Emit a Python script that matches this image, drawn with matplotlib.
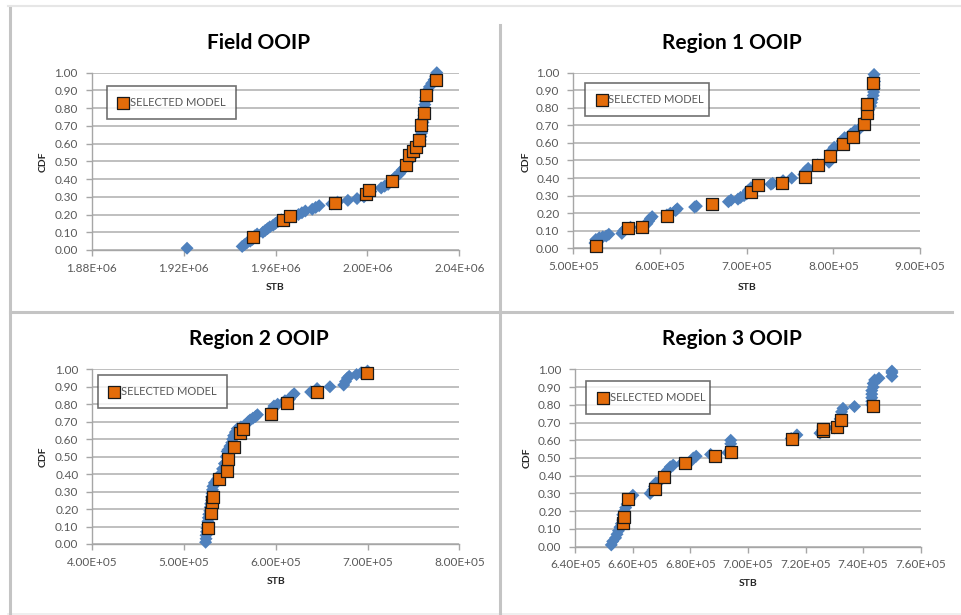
import matplotlib
matplotlib.use("Agg")
import matplotlib.pyplot as plt
from matplotlib.lines import Line2D
from matplotlib.ticker import FuncFormatter, MultipleLocator

plt.rcParams['font.family'] = ['Lato', 'DejaVu Sans']

# ---------------- data ----------------
titles = ["Field OOIP", "Region 1 OOIP", "Region 2 OOIP", "Region 3 OOIP"]
legend_label = "SELECTED MODEL"
x_label = "STB"
y_label = "CDF"

# Field realizations (STB, CDF)
field_x = [1.9215e6, 1.9455e6, 1.9465e6, 1.9475e6, 1.9490e6, 1.9500e6, 1.9510e6, 1.9520e6,
           1.9545e6, 1.9555e6, 1.9565e6, 1.9575e6, 1.9590e6, 1.9600e6, 1.9610e6, 1.9625e6,
           1.9650e6, 1.9665e6, 1.9700e6, 1.9715e6, 1.9730e6, 1.9760e6, 1.9775e6, 1.9790e6,
           1.9845e6, 1.9870e6, 1.9915e6, 1.9955e6, 1.9985e6, 2.0000e6, 2.0015e6, 2.0060e6,
           2.0075e6, 2.0090e6, 2.0105e6, 2.0120e6, 2.0130e6, 2.0140e6, 2.0150e6, 2.0160e6,
           2.0170e6, 2.0180e6, 2.0190e6, 2.0200e6, 2.0210e6, 2.0218e6, 2.0225e6, 2.0230e6,
           2.0233e6, 2.0236e6, 2.0238e6, 2.0240e6, 2.0242e6, 2.0244e6, 2.0246e6, 2.0247e6,
           2.0249e6, 2.0250e6, 2.0252e6, 2.0254e6, 2.0257e6, 2.0262e6, 2.0270e6, 2.0280e6,
           2.0290e6, 2.0297e6, 2.0302e6]
field_y = [0.01, 0.02, 0.03, 0.04, 0.05, 0.06, 0.08, 0.09,
           0.10, 0.11, 0.12, 0.13, 0.14, 0.15, 0.16, 0.17,
           0.18, 0.19, 0.20, 0.21, 0.22, 0.23, 0.24, 0.25,
           0.26, 0.27, 0.28, 0.29, 0.30, 0.32, 0.33, 0.35,
           0.36, 0.37, 0.39, 0.41, 0.42, 0.43, 0.45, 0.46,
           0.48, 0.50, 0.52, 0.54, 0.56, 0.58, 0.60, 0.62,
           0.64, 0.66, 0.68, 0.70, 0.72, 0.74, 0.76, 0.78,
           0.80, 0.82, 0.84, 0.86, 0.88, 0.90, 0.92, 0.94,
           0.96, 0.98, 1.00]
field_sel_x = [1.9504e6, 1.9634e6, 1.9663e6, 1.9859e6, 1.9994e6, 2.0006e6, 2.0106e6, 2.0168e6,
               2.0183e6, 2.0197e6, 2.0210e6, 2.0223e6, 2.0235e6, 2.0246e6, 2.0255e6, 2.0297e6]
field_sel_y = [0.073, 0.171, 0.190, 0.265, 0.314, 0.337, 0.391, 0.478,
               0.534, 0.557, 0.583, 0.622, 0.703, 0.773, 0.876, 0.957]

# Region 1
r1_x = [5.25e5, 5.26e5, 5.30e5, 5.34e5, 5.38e5, 5.41e5, 5.56e5, 5.58e5, 5.60e5, 5.66e5,
        5.85e5, 5.87e5, 5.89e5, 5.91e5, 6.08e5, 6.12e5, 6.18e5, 6.20e5, 6.40e5, 6.42e5,
        6.79e5, 6.82e5, 6.90e5, 6.93e5, 6.97e5, 7.00e5, 7.02e5, 7.05e5, 7.28e5, 7.30e5,
        7.42e5, 7.52e5, 7.66e5, 7.68e5, 7.71e5, 7.82e5, 7.95e5, 7.96e5, 7.97e5, 7.99e5,
        8.01e5, 8.10e5, 8.13e5, 8.20e5, 8.25e5, 8.30e5, 8.34e5, 8.36e5, 8.38e5, 8.40e5,
        8.41e5, 8.43e5, 8.44e5, 8.45e5, 8.46e5, 8.465e5, 8.47e5, 8.47e5, 8.475e5, 8.47e5,
        8.47e5]
r1_y = [0.03, 0.05, 0.06, 0.065, 0.07, 0.08, 0.085, 0.10, 0.11, 0.12,
        0.14, 0.155, 0.17, 0.18, 0.19, 0.20, 0.215, 0.225, 0.235, 0.24,
        0.265, 0.275, 0.28, 0.29, 0.30, 0.31, 0.33, 0.345, 0.365, 0.37,
        0.385, 0.40, 0.42, 0.44, 0.455, 0.475, 0.49, 0.50, 0.53, 0.56,
        0.575, 0.61, 0.63, 0.65, 0.67, 0.68, 0.70, 0.72, 0.74, 0.76,
        0.79, 0.81, 0.83, 0.85, 0.87, 0.89, 0.91, 0.93, 0.95, 0.97,
        0.99]
r1_sel_x = [5.258e5, 5.635e5, 5.796e5, 6.084e5, 6.604e5, 7.047e5, 7.134e5, 7.404e5, 7.677e5,
            7.820e5, 7.962e5, 8.115e5, 8.223e5, 8.354e5, 8.385e5, 8.392e5, 8.461e5]
r1_sel_y = [0.011, 0.116, 0.123, 0.186, 0.250, 0.321, 0.359, 0.370, 0.408,
            0.473, 0.524, 0.596, 0.632, 0.706, 0.770, 0.822, 0.941]

# Region 2
r2_x = [5.235e5, 5.24e5, 5.24e5, 5.245e5, 5.25e5, 5.255e5, 5.26e5, 5.265e5, 5.27e5, 5.28e5,
        5.285e5, 5.29e5, 5.30e5, 5.30e5, 5.305e5, 5.31e5, 5.315e5, 5.33e5, 5.36e5, 5.38e5,
        5.40e5, 5.42e5, 5.44e5, 5.46e5, 5.47e5, 5.48e5, 5.50e5, 5.52e5, 5.53e5, 5.54e5,
        5.56e5, 5.58e5, 5.62e5, 5.66e5, 5.70e5, 5.72e5, 5.75e5, 5.78e5, 5.80e5, 5.96e5,
        5.98e5, 6.02e5, 6.10e5, 6.15e5, 6.18e5, 6.20e5, 6.38e5, 6.45e5, 6.59e5, 6.74e5,
        6.76e5, 6.78e5, 6.80e5, 6.88e5, 6.93e5, 7.00e5]
r2_y = [0.01, 0.03, 0.05, 0.07, 0.09, 0.11, 0.13, 0.15, 0.17, 0.19,
        0.21, 0.23, 0.25, 0.27, 0.29, 0.31, 0.33, 0.35, 0.37, 0.39,
        0.40, 0.43, 0.46, 0.50, 0.53, 0.54, 0.56, 0.58, 0.60, 0.62,
        0.64, 0.66, 0.67, 0.68, 0.70, 0.71, 0.72, 0.73, 0.74, 0.77,
        0.79, 0.80, 0.82, 0.83, 0.85, 0.86, 0.87, 0.89, 0.90, 0.91,
        0.93, 0.95, 0.96, 0.97, 0.98, 0.99]
r2_sel_x = [5.264e5, 5.290e5, 5.301e5, 5.319e5, 5.384e5, 5.465e5, 5.476e5, 5.548e5, 5.610e5,
            5.646e5, 5.948e5, 6.119e5, 6.446e5, 6.991e5]
r2_sel_y = [0.093, 0.176, 0.239, 0.271, 0.374, 0.420, 0.487, 0.555, 0.633,
            0.656, 0.744, 0.805, 0.872, 0.981]

# Region 3
r3_x = [6.525e5, 6.53e5, 6.54e5, 6.545e5, 6.55e5, 6.555e5, 6.56e5, 6.565e5, 6.565e5, 6.57e5,
        6.575e5, 6.58e5, 6.59e5, 6.60e5, 6.66e5, 6.67e5, 6.675e5, 6.68e5, 6.70e5, 6.71e5,
        6.72e5, 6.73e5, 6.74e5, 6.77e5, 6.80e5, 6.81e5, 6.82e5, 6.87e5, 6.93e5, 6.94e5,
        6.94e5, 6.94e5, 7.15e5, 7.17e5, 7.25e5, 7.26e5, 7.30e5, 7.32e5, 7.32e5, 7.325e5,
        7.325e5, 7.33e5, 7.37e5, 7.43e5, 7.43e5, 7.43e5, 7.43e5, 7.43e5, 7.435e5, 7.435e5,
        7.44e5, 7.455e5, 7.50e5, 7.50e5, 7.50e5]
r3_y = [0.01, 0.03, 0.05, 0.07, 0.09, 0.11, 0.13, 0.15, 0.18, 0.20,
        0.22, 0.24, 0.27, 0.29, 0.30, 0.32, 0.34, 0.36, 0.38, 0.41,
        0.43, 0.45, 0.46, 0.47, 0.48, 0.50, 0.51, 0.52, 0.53, 0.55,
        0.58, 0.60, 0.61, 0.63, 0.64, 0.66, 0.67, 0.70, 0.72, 0.74,
        0.76, 0.78, 0.79, 0.80, 0.82, 0.84, 0.86, 0.88, 0.90, 0.92,
        0.94, 0.95, 0.96, 0.98, 0.99]
r3_sel_x = [6.567e5, 6.570e5, 6.584e5, 6.677e5, 6.708e5, 6.781e5, 6.885e5, 6.941e5, 7.152e5,
            7.259e5, 7.262e5, 7.308e5, 7.322e5, 7.433e5]
r3_sel_y = [0.132, 0.166, 0.267, 0.323, 0.395, 0.470, 0.511, 0.536, 0.609,
            0.652, 0.662, 0.676, 0.714, 0.795]

x_limits = [(1.88e6, 2.04e6), (5.0e5, 9.0e5), (4.0e5, 8.0e5), (6.4e5, 7.6e5)]
x_steps = [0.04e6, 1.0e5, 1.0e5, 0.2e5]

series = [(field_x, field_y, field_sel_x, field_sel_y),
          (r1_x, r1_y, r1_sel_x, r1_sel_y),
          (r2_x, r2_y, r2_sel_x, r2_sel_y),
          (r3_x, r3_y, r3_sel_x, r3_sel_y)]

# ---------------- layout ----------------
W, H = 961, 615
fig = plt.figure(figsize=(W / 100, H / 100), dpi=100)
fig.patch.set_facecolor("white")

def px(x0, y0, x1, y1):
    # pixel box (top-left origin) -> figure fraction rect
    return [x0 / W, 1 - y1 / H, (x1 - x0) / W, (y1 - y0) / H]

axes_px = [(91.7, 72.7, 459.3, 250.0),
           (573.3, 72.7, 920.0, 248.3),
           (92.3, 369.3, 459.3, 544.0),
           (575.3, 369.3, 920.7, 546.7)]
title_px = [(259, 43), (732, 43), (259, 339), (732, 339)]
ylab_px = [(43, 162), (526, 162), (43, 457), (527, 458)]
xlab_px = [(275, 287), (747, 287), (276, 582), (748, 584)]
legend_box = [(0.041, 0.743, 0.351, 0.182),
              (0.034, 0.755, 0.357, 0.188),
              (0.015, 0.780, 0.351, 0.186),
              (0.032, 0.748, 0.359, 0.182)]

BLUE = "#4F81BD"
ORANGE = "#E46C0A"
GRID = "#adadad"
TXT = "#595959"

sci = FuncFormatter(lambda v, p: f"{v:.2E}")
dec = FuncFormatter(lambda v, p: f"{v:.2f}")

for i, (bx, by, sx, sy) in enumerate(series):
    ax = fig.add_axes(px(*axes_px[i]))
    ax.set_xlim(*x_limits[i])
    ax.set_ylim(0, 1)
    ax.xaxis.set_major_locator(MultipleLocator(x_steps[i]))
    ax.yaxis.set_major_locator(MultipleLocator(0.1))
    ax.xaxis.set_major_formatter(sci)
    ax.yaxis.set_major_formatter(dec)
    ax.grid(axis="y", color=GRID, lw=1.1)
    ax.set_axisbelow(True)
    for s in ("top", "right"):
        ax.spines[s].set_visible(False)
    for s in ("left", "bottom"):
        ax.spines[s].set_color("#a6a6a6")
        ax.spines[s].set_linewidth(1.0)
    ax.tick_params(axis="both", colors="#a6a6a6", labelcolor=TXT, labelsize=8.5,
                   length=4, width=1.0, direction="out")
    ax.tick_params(axis="y", pad=6)
    ax.tick_params(axis="x", pad=5)

    ax.scatter(bx, by, marker="D", s=44, color=BLUE, edgecolors="none",
               clip_on=False, zorder=3)
    ax.scatter(sx, sy, marker="s", s=70, color=ORANGE, edgecolors="#1a1a1a",
               linewidths=0.9, clip_on=False, zorder=4, label=legend_label)

    leg = ax.legend(loc="center", bbox_to_anchor=legend_box[i], mode="expand",
                    frameon=True, fancybox=False, fontsize=8, borderpad=1.0,
                    handletextpad=0.1, handlelength=1.0, borderaxespad=0,
                    labelcolor=TXT)
    leg.get_frame().set_edgecolor("#4d4d4d")
    leg.get_frame().set_linewidth(1.2)

    fig.text(title_px[i][0] / W, 1 - title_px[i][1] / H, titles[i],
             ha="center", va="center", fontsize=15, fontweight="bold", color="black")
    fig.text(ylab_px[i][0] / W, 1 - ylab_px[i][1] / H, y_label, rotation=90,
             ha="center", va="center", fontsize=7.5, fontweight="bold", color="#262626")
    fig.text(xlab_px[i][0] / W, 1 - xlab_px[i][1] / H, x_label,
             ha="center", va="center", fontsize=7.5, fontweight="bold", color="#262626")

# panel borders
def hline(y, x0, x1, color, lw):
    fig.add_artist(Line2D([x0 / W, x1 / W], [1 - y / H, 1 - y / H],
                          transform=fig.transFigure, color=color, lw=lw))

def vline(x, y0, y1, color, lw):
    fig.add_artist(Line2D([x / W, x / W], [1 - y0 / H, 1 - y1 / H],
                          transform=fig.transFigure, color=color, lw=lw))

hline(6, 8, 961, "#e6e6e6", 1.5)
hline(614, 8, 961, "#ececec", 1.2)
vline(10, 8, 613, "#c4c4c4", 2.2)
vline(500, 25, 615, "#c4c4c4", 2.2)
hline(312, 10, 952, "#c4c4c4", 2.2)

fig.savefig("out.png", dpi=100, facecolor="white")
